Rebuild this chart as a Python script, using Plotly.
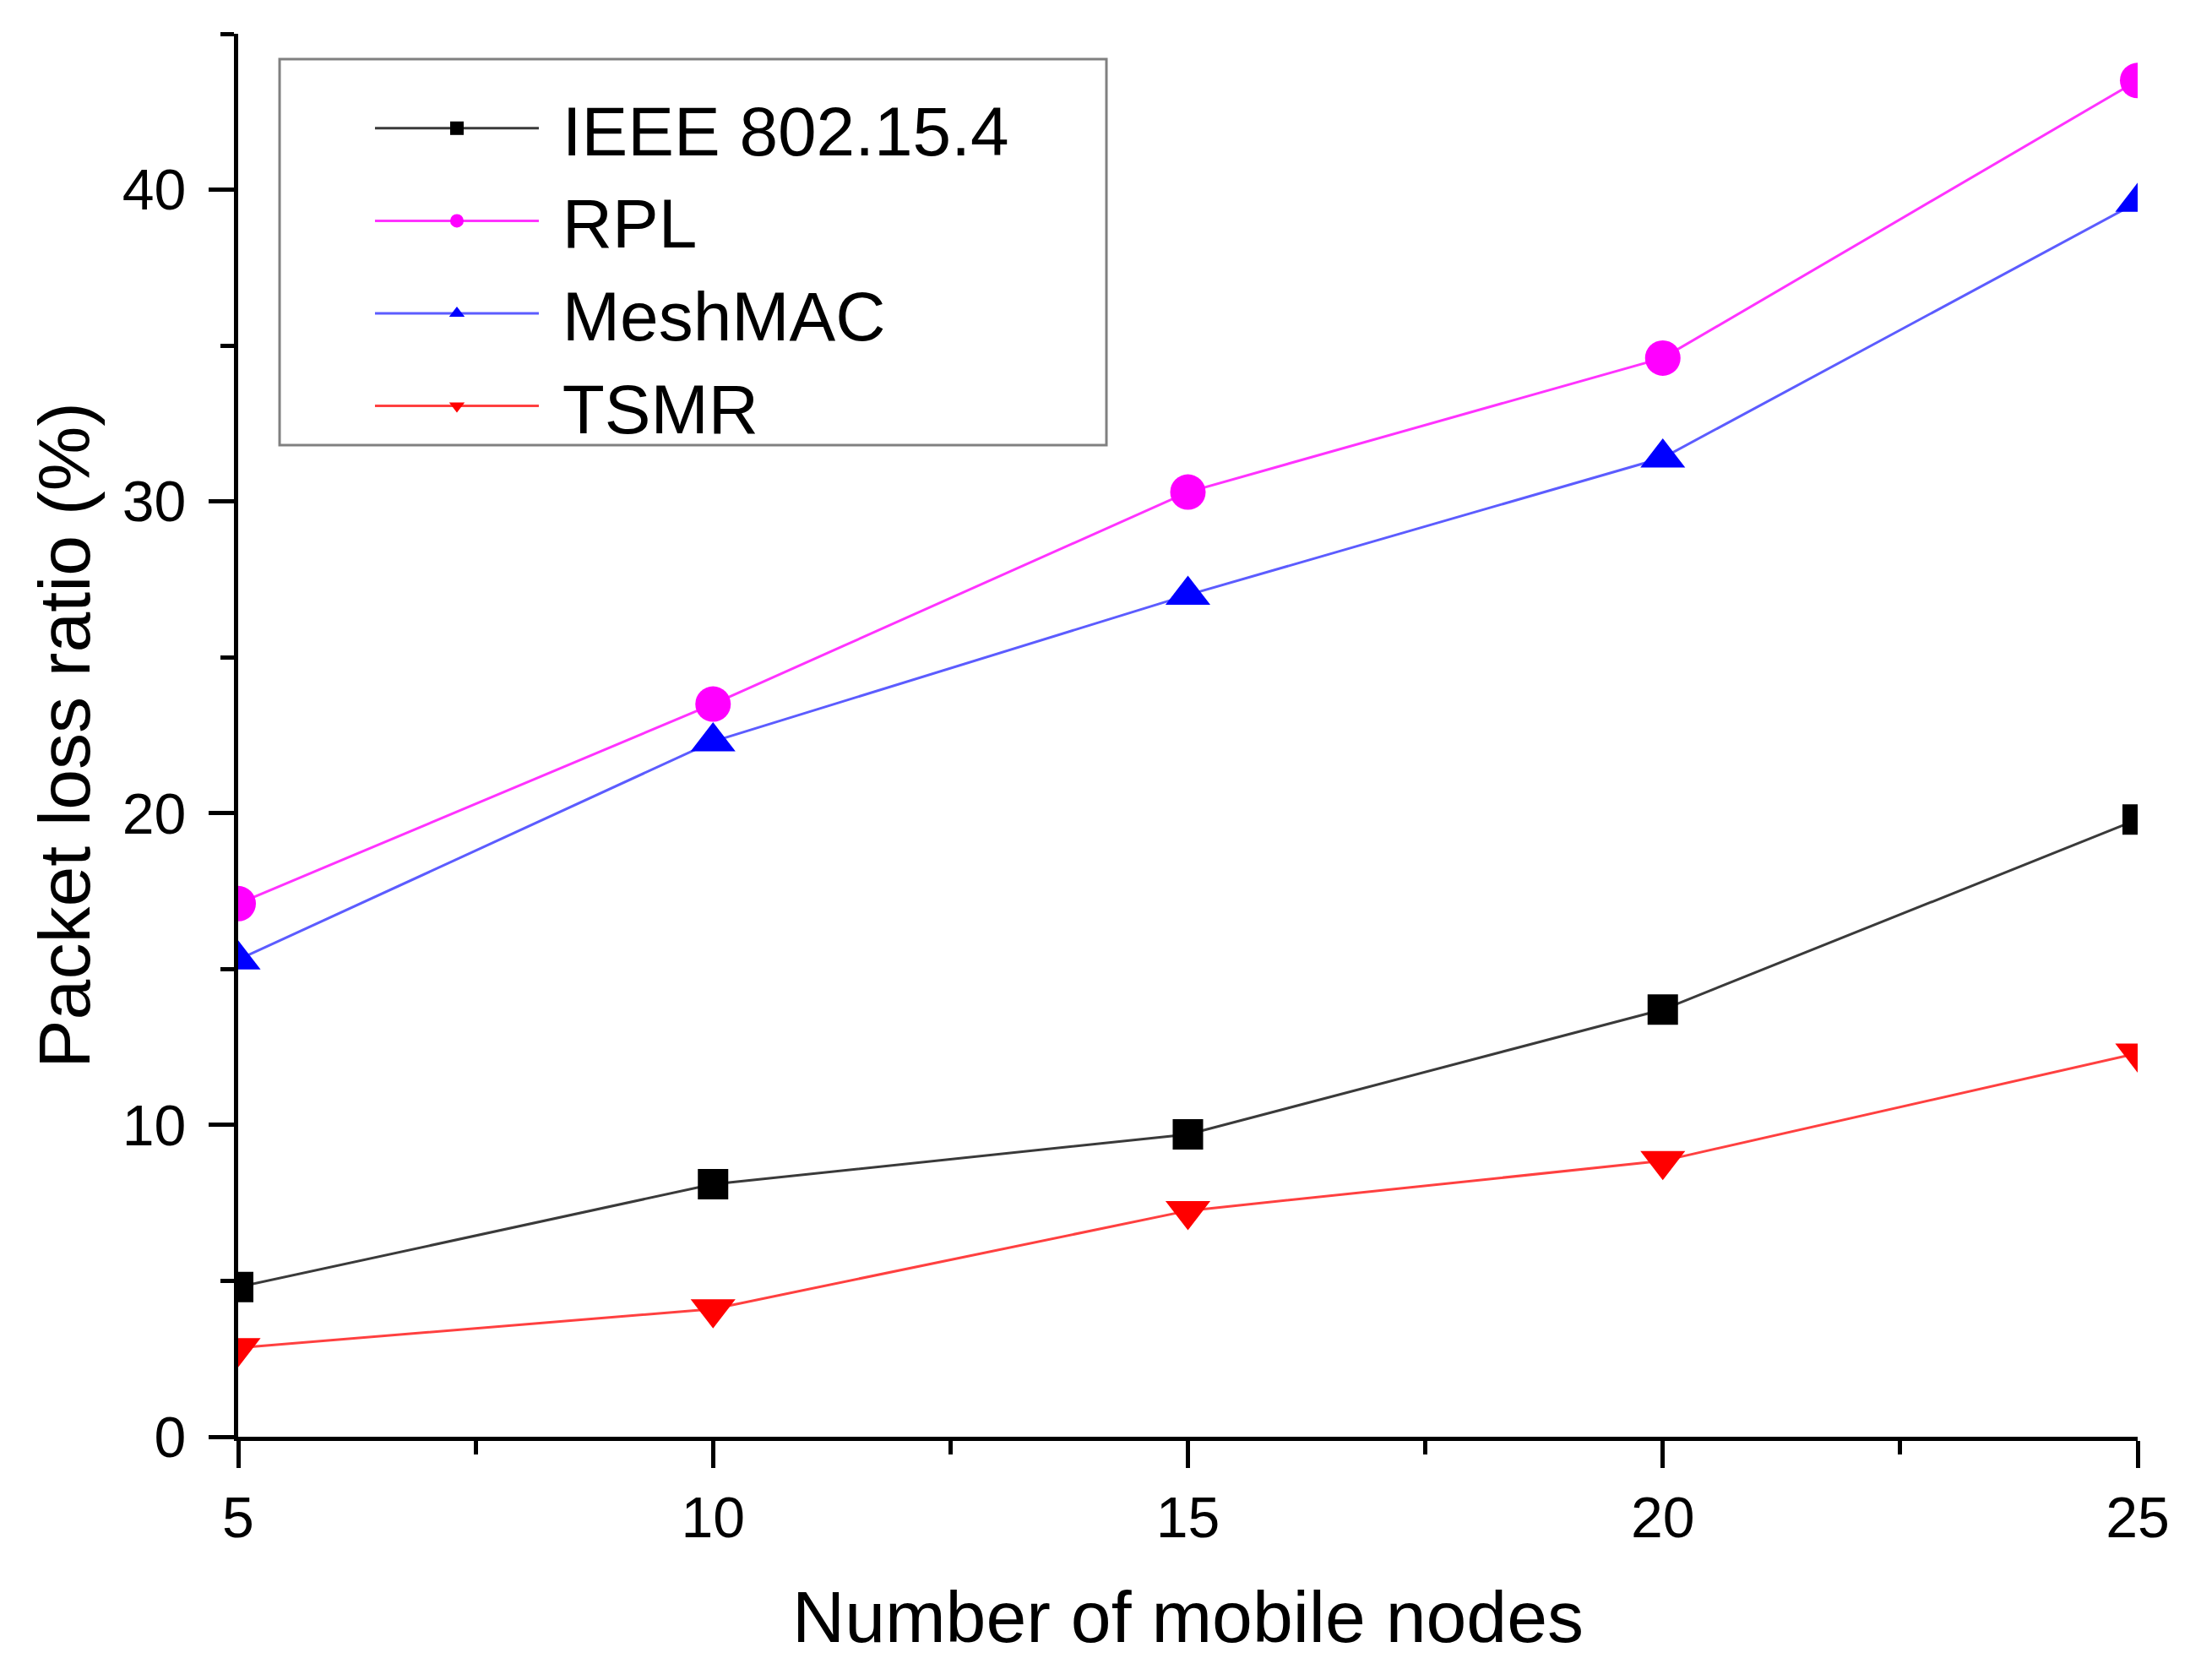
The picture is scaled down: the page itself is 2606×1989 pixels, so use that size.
import plotly.graph_objects as go

# number of mobile nodes
nodes = [5, 10, 15, 20, 25]

# packet loss ratio (%)
ieee_loss = [4.8, 8.1, 9.7, 13.7, 19.8]
rpl_loss = [17.1, 23.5, 30.3, 34.6, 43.5]
meshmac_loss = [15.3, 22.3, 27.0, 31.4, 39.6]
tsmr_loss = [2.85, 4.1, 7.25, 8.85, 12.3]

series_names = ["IEEE 802.15.4", "RPL", "MeshMAC", "TSMR"]

FONT = "Liberation Sans, Arial, sans-serif"

fig = go.Figure()

fig.add_trace(go.Scatter(
    x=nodes, y=ieee_loss, name="\u00a0" + series_names[0], mode="lines+markers",
    line=dict(color="#3a3a3a", width=3),
    marker=dict(symbol="square", size=36, color="black")))
fig.add_trace(go.Scatter(
    x=nodes, y=rpl_loss, name="\u00a0" + series_names[1], mode="lines+markers",
    line=dict(color="#ff33ff", width=3),
    marker=dict(symbol="circle", size=42, color="#ff00ff")))
fig.add_trace(go.Scatter(
    x=nodes, y=meshmac_loss, name="\u00a0" + series_names[2], mode="lines+markers",
    line=dict(color="#5c5cff", width=3),
    marker=dict(symbol="triangle-up", size=46, color="#0000ff")))
fig.add_trace(go.Scatter(
    x=nodes, y=tsmr_loss, name="\u00a0" + series_names[3], mode="lines+markers",
    line=dict(color="#ff4040", width=3),
    marker=dict(symbol="triangle-down", size=46, color="#ff0000")))

axis_style = dict(
    showline=True, linecolor="black", linewidth=5,
    ticks="outside", tickcolor="black", tickwidth=5,
    showgrid=False, zeroline=False, mirror=False, automargin=False,
    tickfont=dict(family=FONT, size=68, color="black"),
)

fig.update_xaxes(
    range=[5, 25], tickmode="linear", tick0=5, dtick=5, ticklen=32,
    ticklabelstandoff=0,
    minor=dict(dtick=2.5, tick0=5, ticks="outside", ticklen=16,
               tickwidth=5, tickcolor="black"),
    title=dict(text="Number of mobile nodes", standoff=53,
               font=dict(family=FONT, size=86, color="black")),
    **axis_style)

fig.update_yaxes(
    range=[0, 45], tickmode="linear", tick0=0, dtick=10, ticklen=30,
    ticklabelstandoff=13,
    minor=dict(dtick=5, tick0=0, ticks="outside", ticklen=16,
               tickwidth=5, tickcolor="black"),
    title=dict(text="Packet loss ratio (%)", standoff=11,
               font=dict(family=FONT, size=86, color="black")),
    **axis_style)

# legend frame drawn as a box, legend itself sits inside it
fig.add_shape(type="rect", xref="paper", yref="paper",
              x0=0.0218, x1=0.4571, y0=0.7068, y1=0.9819,
              line=dict(color="#808080", width=3), fillcolor="white",
              layer="below")

fig.update_layout(
    width=2590, height=1973,
    margin=dict(l=274, r=67, t=32, b=280),
    paper_bgcolor="white", plot_bgcolor="white",
    font=dict(family=FONT, color="black"),
    legend=dict(
        x=0.0698, y=0.9687, xanchor="left", yanchor="top",
        borderwidth=0, bgcolor="rgba(0,0,0,0)",
        font=dict(family=FONT, size=82, color="black"),
        itemwidth=194, itemsizing="trace", tracegroupgap=0,
    ),
)

fig.write_html("out.html")
